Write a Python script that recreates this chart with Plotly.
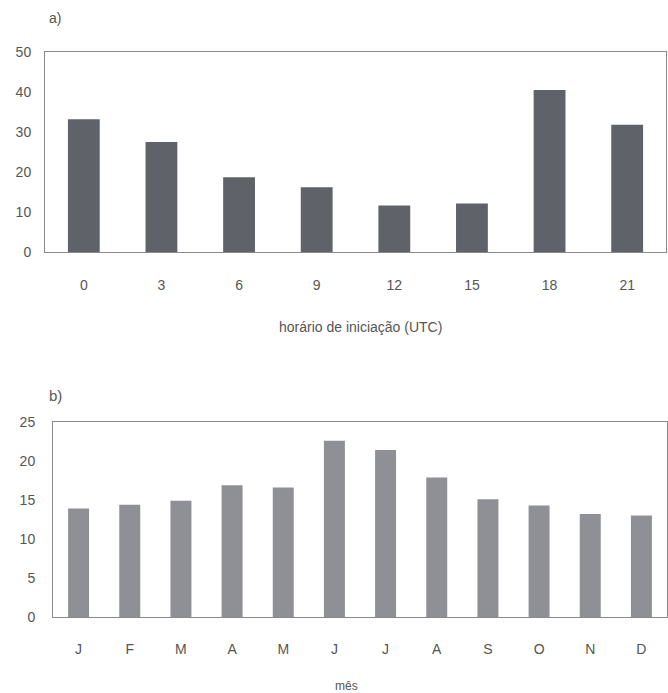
import plotly.graph_objects as go

# a) hour of initiation (UTC)
horas = ["0", "3", "6", "9", "12", "15", "18", "21"]
freq_hora = [33.2, 27.5, 18.7, 16.2, 11.6, 12.1, 40.5, 31.8]

# b) month
meses = ["J", "F", "M", "A", "M ", "J ", "J  ", "A ", "S", "O", "N", "D"]
mes_labels = ["J", "F", "M", "A", "M", "J", "J", "A", "S", "O", "N", "D"]
freq_mes = [13.9, 14.4, 14.9, 16.9, 16.6, 22.6, 21.4, 17.9, 15.1, 14.3, 13.2, 13.0]

W, H = 668, 693
FONT = "Liberation Sans, Arial, sans-serif"
TXT = "#555555"
LINE = "#8a8a8a"


def px_x(v):
    return v / W


def px_y(v):
    return 1 - v / H


fig = go.Figure()
fig.add_trace(go.Bar(x=horas, y=freq_hora, xaxis="x", yaxis="y",
                     marker=dict(color="#60626a", line=dict(width=0)),
                     width=0.41))
fig.add_trace(go.Bar(x=meses, y=freq_mes, xaxis="x2", yaxis="y2",
                     marker=dict(color="#8f9096", line=dict(width=0)),
                     width=0.41))

axis_common = dict(showline=True, linecolor=LINE, linewidth=1, mirror=True,
                   showgrid=False, zeroline=False, automargin=False,
                   tickfont=dict(family=FONT, size=14, color=TXT))

fig.update_layout(
    width=W, height=H,
    margin=dict(l=0, r=0, t=0, b=0),
    paper_bgcolor="white", plot_bgcolor="white",
    showlegend=False,
    bargap=0.59,
    xaxis=dict(domain=[px_x(45), px_x(666)], anchor="y",
               ticks="outside", ticklen=20, tickcolor="rgba(0,0,0,0)",
               **axis_common),
    yaxis=dict(domain=[px_y(252), px_y(52)], anchor="x", range=[0, 50],
               tickvals=[0, 10, 20, 30, 40, 50],
               ticks="outside", ticklen=10, tickcolor="rgba(0,0,0,0)",
               **axis_common),
    xaxis2=dict(domain=[px_x(53), px_x(667)], anchor="y2",
                tickvals=meses, ticktext=mes_labels,
                ticks="outside", ticklen=19, tickcolor="rgba(0,0,0,0)",
                **axis_common),
    yaxis2=dict(domain=[px_y(617), px_y(422)], anchor="x2", range=[0, 25],
                tickvals=[0, 5, 10, 15, 20, 25],
                ticks="outside", ticklen=14, tickcolor="rgba(0,0,0,0)",
                **axis_common),
    annotations=[
        dict(text="a)", x=px_x(47), y=px_y(18), xref="paper", yref="paper",
             xanchor="left", yanchor="middle", showarrow=False,
             font=dict(family=FONT, size=14, color=TXT)),
        dict(text="b)", x=px_x(47), y=px_y(395), xref="paper", yref="paper",
             xanchor="left", yanchor="middle", showarrow=False,
             font=dict(family=FONT, size=15, color=TXT)),
        dict(text="horário de iniciação (UTC)", x=px_x(360), y=px_y(327),
             xref="paper", yref="paper", xanchor="center", yanchor="middle",
             showarrow=False, font=dict(family=FONT, size=14, color=TXT)),
        dict(text="mês", x=px_x(346), y=px_y(686),
             xref="paper", yref="paper", xanchor="center", yanchor="middle",
             showarrow=False, font=dict(family=FONT, size=12, color=TXT)),
    ],
)

fig.write_html("out.html")
